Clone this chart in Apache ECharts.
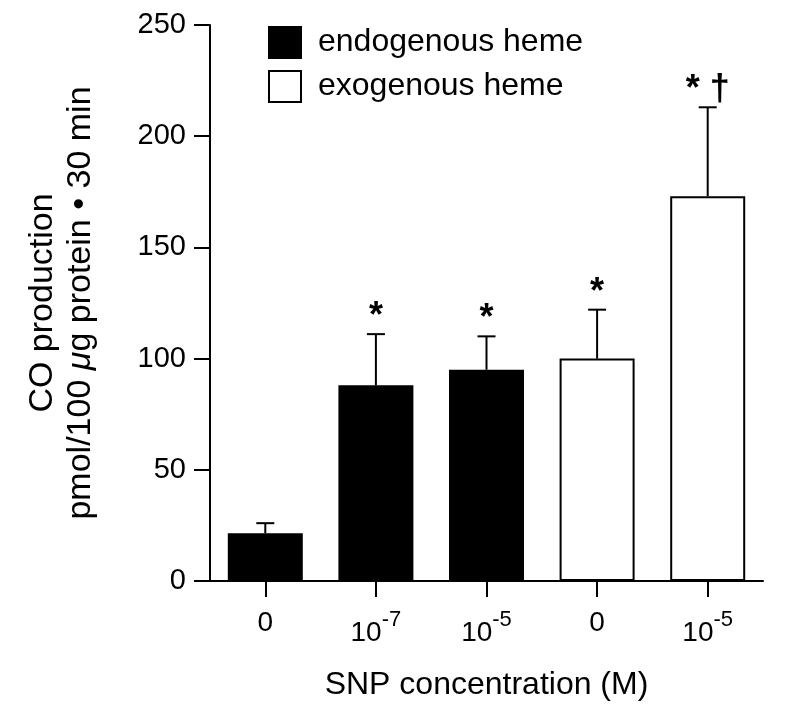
<!DOCTYPE html>
<html>
<head>
<meta charset="utf-8">
<script src="https://cdn.jsdelivr.net/npm/echarts@6/dist/echarts.min.js"></script>
<style>
  html, body { margin: 0; padding: 0; background: #fff; }
  #chart { width: 800px; height: 726px; }
</style>
</head>
<body>
<div id="chart"></div>
<script>
  // 数据
  const categories = ['0', '10^-7', '10^-5', '0', '10^-5'];
  const endogenous = [21.5, 88, 95, null, null];
  const exogenous = [null, null, null, 100, 173];
  const errorTop = [26, 111, 110, 122, 213];
  const marks = ['', '*', '*', '*', '* \u2020'];
  const yTicks = [0, 50, 100, 150, 200, 250];

  const means = categories.map((c, i) => endogenous[i] != null ? endogenous[i] : exogenous[i]);
  const errData = categories.map((c, i) => [i, means[i], errorTop[i]]);

  const font = "'Liberation Sans', Arial, sans-serif";

  const chart = echarts.init(document.getElementById('chart'));
  chart.setOption({
    animation: false,
    backgroundColor: '#fff',
    textStyle: { fontFamily: font, color: '#000' },
    grid: { left: 210, right: 37, top: 25, bottom: 145 },
    legend: {
      orient: 'vertical',
      left: 268,
      top: 26,
      padding: 0,
      itemWidth: 32,
      itemHeight: 31,
      itemGap: 11,
      icon: 'rect',
      data: ['endogenous heme', 'exogenous heme'],
      textStyle: { fontSize: 32, color: '#000', fontFamily: font, padding: [0, 0, 0, 12] }
    },
    xAxis: {
      type: 'category',
      data: categories,
      name: 'SNP concentration (M)',
      nameLocation: 'middle',
      nameGap: 88,
      nameTextStyle: { fontSize: 32, color: '#000', fontFamily: font, verticalAlign: 'top' },
      axisLine: { lineStyle: { color: '#000', width: 2 } },
      axisTick: { show: true, interval: 0, alignWithLabel: true, length: 16, lineStyle: { color: '#000', width: 2 } },
      axisLabel: {
        interval: 0,
        margin: 28,
        fontSize: 28,
        color: '#000',
        fontFamily: font,
        formatter: function (v) {
          if (v.indexOf('^') >= 0) {
            const p = v.split('^');
            return p[0] + '{sup|' + p[1] + '}';
          }
          return v;
        },
        rich: {
          sup: { fontSize: 22, verticalAlign: 'top', padding: [0, 0, 26, 0], fontFamily: font, color: '#000' }
        }
      }
    },
    yAxis: {
      type: 'value',
      min: 0,
      max: 250,
      interval: 50,
      name: 'CO production\npmol/100 {i|\u03bc}g protein \u2022 30 min',
      nameLocation: 'middle',
      nameGap: 110,
      nameTextStyle: {
        fontSize: 34, color: '#000', fontFamily: font, lineHeight: 38,
        rich: { i: { fontStyle: 'italic', fontSize: 34, fontFamily: font, color: '#000', lineHeight: 38 } }
      },
      splitLine: { show: false },
      axisLine: { show: true, lineStyle: { color: '#000', width: 2 } },
      axisTick: { show: true, length: 16, lineStyle: { color: '#000', width: 2 } },
      axisLabel: {
        margin: 24, fontSize: 29, color: '#000', fontFamily: font,
        formatter: v => yTicks.indexOf(v) >= 0 ? String(v) : ''
      }
    },
    series: [
      {
        name: 'endogenous heme',
        type: 'bar',
        data: endogenous,
        barWidth: 75,
        barGap: '-100%',
        itemStyle: { color: '#000', borderColor: '#000', borderWidth: 2 }
      },
      {
        name: 'exogenous heme',
        type: 'bar',
        data: exogenous,
        barWidth: 75,
        barGap: '-100%',
        itemStyle: { color: '#fff', borderColor: '#000', borderWidth: 2 }
      },
      {
        type: 'custom',
        data: errData,
        z: 5,
        renderItem: function (params, api) {
          const x = api.value(0);
          const base = api.coord([x, api.value(1)]);
          const top = api.coord([x, api.value(2)]);
          const mark = marks[params.dataIndex];
          const children = [
            { type: 'line', shape: { x1: base[0], y1: base[1], x2: top[0], y2: top[1] }, style: { stroke: '#000', lineWidth: 2 } },
            { type: 'line', shape: { x1: top[0] - 9, y1: top[1], x2: top[0] + 9, y2: top[1] }, style: { stroke: '#000', lineWidth: 2 } }
          ];
          if (mark) {
            children.push({
              type: 'text',
              style: {
                text: mark, x: top[0], y: top[1] + 1,
                align: 'center', verticalAlign: 'bottom',
                fontSize: 36, fontWeight: 'bold', fontFamily: font, fill: '#000'
              }
            });
          }
          return { type: 'group', children: children };
        }
      }
    ]
  });
</script>
</body>
</html>
